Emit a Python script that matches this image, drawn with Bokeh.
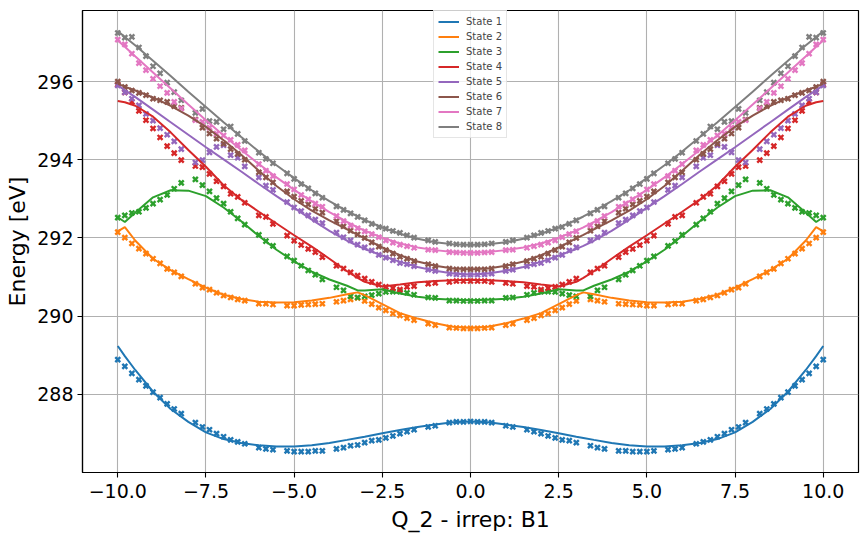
from bokeh.plotting import figure
from bokeh.models import Range1d, FixedTicker, Legend, LegendItem
from bokeh.embed import file_html
from bokeh.resources import INLINE

# Displacement grid of the computed points (a few geometries are absent)
x_pts = [-10.0, -9.8, -9.6, -9.4, -9.2, -9.0, -8.8, -8.6, -8.4, -8.2, -7.8, -7.6, -7.4, -7.2, -7.0,
         -6.8, -6.6, -6.4, -6.0, -5.8, -5.6, -5.2, -5.0, -4.8, -4.6, -4.4, -4.2, -3.8, -3.6, -3.4,
         -3.2, -3.0, -2.8, -2.6, -2.4, -2.2, -2.0, -1.8, -1.6, -1.2, -1.0, -0.6, -0.4, -0.2, 0.0,
         0.2, 0.4, 0.6, 1.0, 1.2, 1.6, 1.8, 2.0, 2.2, 2.4, 2.6, 2.8, 3.0, 3.4, 3.6, 3.8, 4.2, 4.4,
         4.6, 4.8, 5.0, 5.2, 5.6, 5.8, 6.0, 6.4, 6.6, 6.8, 7.0, 7.2, 7.4, 7.6, 7.8, 8.2, 8.4, 8.6,
         8.8, 9.0, 9.2, 9.4, 9.6, 9.8, 10.0]

# Displacement grid of the fitted model curves
x_fit = [-10, -9.8, -9.5, -9, -8.5, -8, -7.5, -7, -6.5, -6, -5.5, -5, -4.5, -4, -3.5, -3.2, -3,
         -2.5, -2, -1.5, -1, -0.5, 0, 0.5, 1, 1.5, 2, 2.5, 3, 3.2, 3.5, 4, 4.5, 5, 5.5, 6, 6.5, 7,
         7.5, 8, 8.5, 9, 9.5, 9.8, 10]

# Computed energies [eV]
s1_pts = [288.89, 288.72, 288.54, 288.38, 288.22, 288.06, 287.92, 287.76, 287.63, 287.51, 287.28, 287.17,
          287.10, 287.00, 286.92, 286.84, 286.79, 286.74, 286.64, 286.61, 286.59, 286.56, 286.54, 286.54,
          286.54, 286.56, 286.56, 286.61, 286.64, 286.69, 286.71, 286.77, 286.82, 286.84, 286.89, 286.94,
          287.00, 287.05, 287.10, 287.17, 287.20, 287.28, 287.30, 287.30, 287.31,
          287.30, 287.30, 287.28, 287.20, 287.17, 287.10, 287.05, 287.00, 286.94, 286.89, 286.84, 286.82,
          286.77, 286.69, 286.64, 286.61, 286.56, 286.56, 286.54, 286.54, 286.54, 286.56, 286.59, 286.61,
          286.64, 286.74, 286.79, 286.84, 286.92, 287.00, 287.10, 287.17, 287.28, 287.51, 287.63, 287.76,
          287.92, 288.06, 288.22, 288.38, 288.54, 288.72, 288.89]
s2_pts = [292.15, 292.01, 291.86, 291.73, 291.60, 291.47, 291.35, 291.21, 291.12, 291.02, 290.83, 290.73,
          290.68, 290.60, 290.53, 290.48, 290.43, 290.40, 290.32, 290.32, 290.30, 290.27, 290.27, 290.29,
          290.30, 290.31, 290.32, 290.37, 290.40, 290.43, 290.47, 290.39, 290.31, 290.22, 290.15, 290.07,
          290.02, 289.95, 289.90, 289.81, 289.77, 289.71, 289.70, 289.69, 289.69,
          289.69, 289.70, 289.71, 289.77, 289.81, 289.90, 289.95, 290.02, 290.07, 290.15, 290.22, 290.31,
          290.39, 290.43, 290.40, 290.37, 290.32, 290.31, 290.30, 290.29, 290.27, 290.27, 290.30, 290.32,
          290.32, 290.40, 290.43, 290.48, 290.53, 290.60, 290.68, 290.73, 290.83, 291.02, 291.12, 291.21,
          291.35, 291.47, 291.60, 291.73, 291.86, 292.01, 292.15]
s3_pts = [292.52, 292.58, 292.64, 292.67, 292.77, 292.88, 292.98, 293.10, 293.26, 293.41, 293.50, 293.35,
          293.19, 293.02, 292.88, 292.67, 292.50, 292.34, 292.08, 291.92, 291.80, 291.53, 291.42, 291.29,
          291.17, 291.06, 290.94, 290.74, 290.66, 290.51, 290.48, 290.51, 290.54, 290.58, 290.62, 290.63,
          290.63, 290.60, 290.55, 290.48, 290.47, 290.40, 290.40, 290.39, 290.39,
          290.39, 290.40, 290.40, 290.47, 290.48, 290.55, 290.60, 290.63, 290.63, 290.62, 290.58, 290.54,
          290.51, 290.51, 290.66, 290.74, 290.94, 291.06, 291.17, 291.29, 291.42, 291.53, 291.80, 291.92,
          292.08, 292.34, 292.50, 292.67, 292.88, 293.02, 293.19, 293.35, 293.50, 293.41, 293.26, 293.10,
          292.98, 292.88, 292.77, 292.67, 292.64, 292.58, 292.52]
s4_pts = [295.92, 295.72, 295.48, 295.25, 295.01, 294.80, 294.57, 294.35, 294.17, 293.99, 293.84, 293.81,
          293.64, 293.45, 293.32, 293.13, 293.05, 292.90, 292.58, 292.54, 292.36, 292.06, 291.93, 291.82,
          291.72, 291.64, 291.51, 291.29, 291.22, 291.12, 291.04, 290.96, 290.88, 290.81, 290.75, 290.72,
          290.68, 290.75, 290.77, 290.83, 290.85, 290.88, 290.90, 290.90, 290.90,
          290.90, 290.90, 290.88, 290.85, 290.83, 290.77, 290.75, 290.68, 290.72, 290.75, 290.81, 290.88,
          290.96, 291.12, 291.22, 291.29, 291.51, 291.64, 291.72, 291.82, 291.93, 292.06, 292.36, 292.54,
          292.58, 292.90, 293.05, 293.13, 293.32, 293.45, 293.64, 293.81, 293.84, 293.99, 294.17, 294.35,
          294.57, 294.80, 295.01, 295.25, 295.48, 295.72, 295.92]
s5_pts = [295.90, 295.72, 295.56, 295.39, 295.17, 295.00, 294.81, 294.64, 294.47, 294.27, 293.93, 293.99,
          294.19, 294.33, 294.37, 294.12, 294.05, 293.83, 293.55, 293.34, 293.23, 292.92, 292.78, 292.69,
          292.58, 292.47, 292.38, 292.14, 292.02, 291.94, 291.83, 291.76, 291.68, 291.57, 291.50, 291.43,
          291.36, 291.33, 291.28, 291.19, 291.16, 291.09, 291.07, 291.06, 291.06,
          291.06, 291.07, 291.09, 291.16, 291.19, 291.28, 291.33, 291.36, 291.43, 291.50, 291.57, 291.68,
          291.76, 291.94, 292.02, 292.14, 292.38, 292.47, 292.58, 292.69, 292.78, 292.92, 293.23, 293.34,
          293.55, 293.83, 294.05, 294.12, 294.37, 294.33, 294.19, 293.99, 293.93, 294.27, 294.47, 294.64,
          294.81, 295.00, 295.17, 295.39, 295.56, 295.72, 295.90]
s6_pts = [296.00, 295.86, 295.77, 295.71, 295.65, 295.56, 295.52, 295.48, 295.37, 295.33, 295.03, 294.82,
          294.67, 294.54, 294.41, 294.27, 294.15, 294.00, 293.68, 293.55, 293.42, 293.19, 293.06, 292.95,
          292.86, 292.75, 292.65, 292.43, 292.30, 292.19, 292.09, 292.00, 291.89, 291.78, 291.69, 291.60,
          291.52, 291.47, 291.41, 291.33, 291.28, 291.22, 291.20, 291.20, 291.20,
          291.20, 291.20, 291.22, 291.28, 291.33, 291.41, 291.47, 291.52, 291.60, 291.69, 291.78, 291.89,
          292.00, 292.19, 292.30, 292.43, 292.65, 292.75, 292.86, 292.95, 293.06, 293.19, 293.42, 293.55,
          293.68, 294.00, 294.15, 294.27, 294.41, 294.54, 294.67, 294.82, 295.03, 295.33, 295.37, 295.48,
          295.52, 295.56, 295.65, 295.71, 295.77, 295.86, 296.00]
s7_pts = [297.07, 296.95, 296.71, 296.47, 296.29, 296.07, 295.88, 295.71, 295.48, 295.31, 295.01, 294.97,
          294.82, 294.67, 294.62, 294.51, 294.38, 294.24, 293.89, 293.72, 293.58, 293.38, 293.24, 293.10,
          292.99, 292.88, 292.80, 292.56, 292.43, 292.32, 292.25, 292.17, 292.10, 292.02, 291.94, 291.88,
          291.83, 291.79, 291.75, 291.70, 291.69, 291.64, 291.63, 291.62, 291.62,
          291.62, 291.63, 291.64, 291.69, 291.70, 291.75, 291.79, 291.83, 291.88, 291.94, 292.02, 292.10,
          292.17, 292.32, 292.43, 292.56, 292.80, 292.88, 292.99, 293.10, 293.24, 293.38, 293.58, 293.72,
          293.89, 294.24, 294.38, 294.51, 294.62, 294.67, 294.82, 294.97, 295.01, 295.31, 295.48, 295.71,
          295.88, 296.07, 296.29, 296.47, 296.71, 296.95, 297.07]
s8_pts = [297.24, 297.12, 297.14, 296.87, 296.65, 296.39, 296.21, 295.97, 295.73, 295.52, 295.20, 295.30,
          294.99, 294.97, 294.78, 294.85, 294.66, 294.48, 294.18, 294.02, 293.91, 293.65, 293.51, 293.38,
          293.27, 293.14, 293.03, 292.81, 292.72, 292.63, 292.54, 292.45, 292.36, 292.28, 292.24, 292.18,
          292.13, 292.07, 292.01, 291.94, 291.90, 291.86, 291.84, 291.83, 291.83,
          291.83, 291.84, 291.86, 291.90, 291.94, 292.01, 292.07, 292.13, 292.18, 292.24, 292.28, 292.36,
          292.45, 292.63, 292.72, 292.81, 293.03, 293.14, 293.27, 293.38, 293.51, 293.65, 293.91, 294.02,
          294.18, 294.48, 294.66, 294.85, 294.78, 294.97, 294.99, 295.30, 295.20, 295.52, 295.73, 295.97,
          296.21, 296.39, 296.65, 296.87, 297.14, 297.12, 297.24]

# Fitted model energies [eV]
s1_fit = [289.24, 288.98, 288.62, 288.07, 287.63, 287.30, 287.03, 286.86, 286.76, 286.70, 286.67, 286.67,
          286.70, 286.76, 286.84, 286.89, 286.92, 287.01, 287.09, 287.17, 287.23, 287.29, 287.31,
          287.29, 287.23, 287.17, 287.09, 287.01, 286.92, 286.89, 286.84, 286.76, 286.70, 286.67, 286.67,
          286.70, 286.76, 286.86, 287.03, 287.30, 287.63, 288.07, 288.62, 288.98, 289.24]
s2_fit = [292.17, 292.28, 291.93, 291.47, 291.18, 290.95, 290.73, 290.55, 290.44, 290.37, 290.35, 290.36,
          290.40, 290.47, 290.56, 290.61, 290.54, 290.31, 290.08, 289.94, 289.82, 289.73, 289.70,
          289.73, 289.82, 289.94, 290.08, 290.31, 290.54, 290.61, 290.56, 290.47, 290.40, 290.36, 290.35,
          290.37, 290.44, 290.55, 290.73, 290.95, 291.18, 291.47, 291.93, 292.28, 292.17]
s3_fit = [292.53, 292.41, 292.65, 293.04, 293.22, 293.21, 293.07, 292.78, 292.43, 292.05, 291.70, 291.40,
          291.14, 290.94, 290.78, 290.66, 290.66, 290.69, 290.58, 290.50, 290.45, 290.42, 290.41,
          290.42, 290.45, 290.50, 290.58, 290.69, 290.66, 290.66, 290.78, 290.94, 291.14, 291.40, 291.70,
          292.05, 292.43, 292.78, 293.07, 293.21, 293.22, 293.04, 292.65, 292.41, 292.53]
s4_fit = [295.50, 295.47, 295.38, 295.10, 294.70, 294.25, 293.82, 293.35, 292.98, 292.67, 292.37, 292.07,
          291.78, 291.47, 291.15, 290.98, 290.88, 290.76, 290.81, 290.87, 290.90, 290.92, 290.93,
          290.92, 290.90, 290.87, 290.81, 290.76, 290.88, 290.98, 291.15, 291.47, 291.78, 292.07, 292.37,
          292.67, 292.98, 293.35, 293.82, 294.25, 294.70, 295.10, 295.38, 295.47, 295.50]
s5_fit = [295.90, 295.78, 295.60, 295.28, 294.96, 294.64, 294.32, 294.01, 293.70, 293.38, 293.07, 292.77,
          292.47, 292.18, 291.93, 291.80, 291.72, 291.55, 291.39, 291.26, 291.16, 291.09, 291.06,
          291.09, 291.16, 291.26, 291.39, 291.55, 291.72, 291.80, 291.93, 292.18, 292.47, 292.77, 293.07,
          293.38, 293.70, 294.01, 294.32, 294.64, 294.96, 295.28, 295.60, 295.78, 295.90]
s6_fit = [295.94, 295.87, 295.77, 295.59, 295.38, 295.13, 294.84, 294.50, 294.13, 293.72, 293.33, 292.99,
          292.70, 292.45, 292.22, 292.08, 291.99, 291.76, 291.56, 291.40, 291.29, 291.22, 291.20,
          291.22, 291.29, 291.40, 291.56, 291.76, 291.99, 292.08, 292.22, 292.45, 292.70, 292.99, 293.33,
          293.72, 294.13, 294.50, 294.84, 295.13, 295.38, 295.59, 295.77, 295.87, 295.94]
s7_fit = [297.05, 296.89, 296.64, 296.23, 295.82, 295.41, 295.01, 294.62, 294.25, 293.89, 293.55, 293.23,
          292.94, 292.66, 292.41, 292.27, 292.19, 292.01, 291.86, 291.76, 291.69, 291.64, 291.62,
          291.64, 291.69, 291.76, 291.86, 292.01, 292.19, 292.27, 292.41, 292.66, 292.94, 293.23, 293.55,
          293.89, 294.25, 294.62, 295.01, 295.41, 295.82, 296.23, 296.64, 296.89, 297.05]
s8_fit = [297.29, 297.14, 296.92, 296.53, 296.14, 295.74, 295.35, 294.96, 294.58, 294.21, 293.86, 293.53,
          293.22, 292.94, 292.69, 292.55, 292.46, 292.27, 292.11, 291.98, 291.89, 291.84, 291.82,
          291.84, 291.89, 291.98, 292.11, 292.27, 292.46, 292.55, 292.69, 292.94, 293.22, 293.53, 293.86,
          294.21, 294.58, 294.96, 295.35, 295.74, 296.14, 296.53, 296.92, 297.14, 297.29]

state_names = ["State 1", "State 2", "State 3", "State 4", "State 5", "State 6", "State 7", "State 8"]
state_colors = ["#1f77b4", "#ff7f0e", "#2ca02c", "#d62728", "#9467bd", "#8c564b", "#e377c2", "#7f7f7f"]
pts = [s1_pts, s2_pts, s3_pts, s4_pts, s5_pts, s6_pts, s7_pts, s8_pts]
fits = [s1_fit, s2_fit, s3_fit, s4_fit, s5_fit, s6_fit, s7_fit, s8_fit]

x_ticks = [-10, -7.5, -5, -2.5, 0, 2.5, 5, 7.5, 10]
x_tick_labels = ["\u221210.0", "\u22127.5", "\u22125.0", "\u22122.5", "0.0", "2.5", "5.0", "7.5", "10.0"]
y_ticks = [288, 290, 292, 294, 296]

FONT = "DejaVu Sans"

p = figure(width=867, height=537, output_backend="svg", toolbar_location=None,
           x_range=Range1d(-11, 11), y_range=Range1d(286.006, 297.815),
           min_border_left=82, min_border_right=9, min_border_top=10, min_border_bottom=65)
p.background_fill_color = "white"
p.border_fill_color = "white"
p.outline_line_color = "black"
p.outline_line_width = 1.2

# computed points (underneath the curves)
for y, c in zip(pts, state_colors):
    p.scatter(x_pts, y, marker="x", size=7, line_width=2.4, color=c)

# fitted curves
items = []
for y, c, name in zip(fits, state_colors, state_names):
    r = p.line(x_fit, y, line_width=2, color=c)
    items.append(LegendItem(label=name, renderers=[r]))

p.xaxis.ticker = FixedTicker(ticks=x_ticks)
p.xaxis.major_label_overrides = {t: lab for t, lab in zip(x_ticks, x_tick_labels)}
p.yaxis.ticker = FixedTicker(ticks=y_ticks)
p.xgrid.ticker = FixedTicker(ticks=x_ticks)
p.ygrid.ticker = FixedTicker(ticks=y_ticks)
for g in (p.xgrid, p.ygrid):
    g.grid_line_color = "#b0b0b0"
    g.grid_line_width = 1.1

for ax in (p.xaxis, p.yaxis):
    ax.axis_line_color = "black"
    ax.axis_line_width = 1.2
    ax.major_tick_line_color = "black"
    ax.major_tick_line_width = 1.1
    ax.major_tick_out = 5
    ax.major_tick_in = 0
    ax.minor_tick_line_color = None
    ax.major_label_text_font = FONT
    ax.major_label_text_font_size = "19px"
    ax.major_label_text_color = "black"
    ax.axis_label_text_font = FONT
    ax.axis_label_text_font_size = "22px"
    ax.axis_label_text_font_style = "normal"
    ax.axis_label_text_color = "black"

p.xaxis.axis_label = "Q_2 - irrep: B1"
p.yaxis.axis_label = "Energy [eV]"
p.xaxis.major_label_standoff = 6
p.xaxis.axis_label_standoff = 6
p.yaxis.major_label_standoff = 4
p.yaxis.axis_label_standoff = 4

legend = Legend(items=items, location=(351, 334))
legend.label_text_font = FONT
legend.label_text_font_size = "10px"
legend.label_height = 13
legend.glyph_height = 13
legend.glyph_width = 21
legend.label_standoff = 7
legend.spacing = 2
legend.padding = 4
legend.margin = 0
legend.border_line_color = "#cccccc"
legend.border_line_width = 1
legend.background_fill_color = "white"
legend.background_fill_alpha = 0.8
p.add_layout(legend)

open("out.html", "w").write(file_html(p, INLINE))
